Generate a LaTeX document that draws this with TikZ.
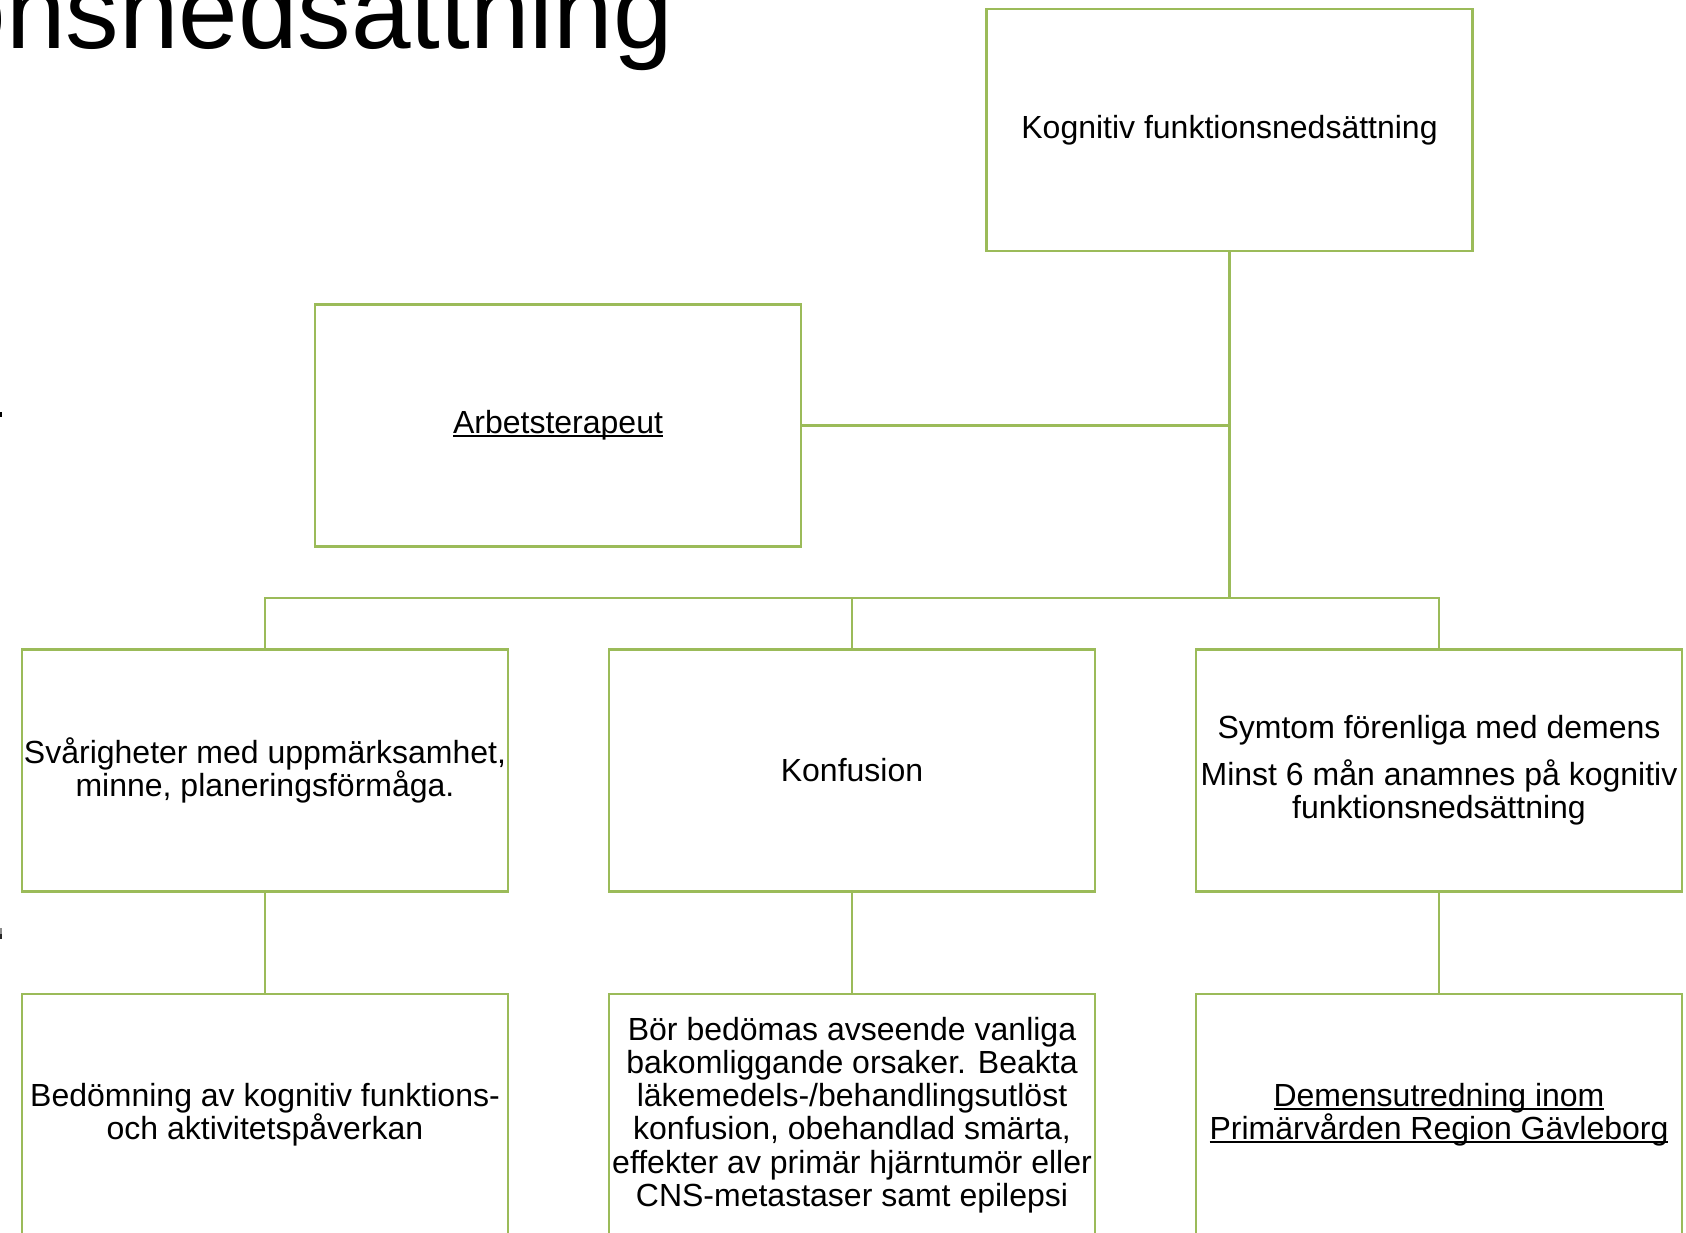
\documentclass[tikz,border=0pt]{standalone}
\usepackage{fontspec}
\setmainfont{Liberation Sans}
\definecolor{boxgreen}{HTML}{9BBB59}
\newsavebox\ulinebox
% underline at a fixed depth, crossing the descenders
\newcommand\ulink[1]{\sbox\ulinebox{#1}\rlap{\rule[-0.11em]{\wd\ulinebox}{0.065em}}\usebox\ulinebox}
\tikzset{
  card/.style={draw=boxgreen, line width=1.45pt, rectangle, minimum width=243pt,
    minimum height=121pt, inner sep=0pt, align=center, text=black,
    font=\fontsize{16}{16.65}\selectfont},
  link/.style={draw=boxgreen, line width=1.45pt}
}
\begin{document}
\begin{tikzpicture}[x=0.5pt,y=-0.5pt]
\useasboundingbox (0,0) rectangle (1686,1232);
\clip (0,0) rectangle (1686,1232);
\fill[white] (0,0) rectangle (1686,1232);

% heading running in from the left edge
\node[anchor=base west, inner sep=0pt, font=\fontsize{53.5}{60}\selectfont] (title) at (6,48) {\llap{o}nsnedsättning};
% fragments of text at the left edge
\fill[black] (0,412) rectangle (2,417);
\fill[black!45] (0,928) rectangle (2,934);
\fill[black!85] (0,934) rectangle (2,939);

% boxes
\node[card] (top) at (1229.5,130) {Kognitiv funktionsnedsättning};
\node[card] (arb) at (558,425.5) {\ulink{Arbetsterapeut}};

\node[card] (c1) at (265,770.5) {Svårigheter med uppmärksamhet,\\minne, planeringsförmåga.};
\node[card] (c2) at (852,770.5) {Konfusion};
\node[card] (c3) at (1439,770.5) {Symtom förenliga med demens\\[6.5pt]Minst 6 mån anamnes på kognitiv\\funktionsnedsättning};

\node[card] (d1) at (265,1115) {Bedömning av kognitiv funktions-\\och aktivitetspåverkan};
\node[card] (d2) at (852,1115) {Bör bedömas avseende vanliga\\bakomliggande orsaker. Beakta\\läkemedels-/behandlingsutlöst\\konfusion, obehandlad smärta,\\effekter av primär hjärntumör eller\\CNS-metastaser samt epilepsi};
\node[card] (d3) at (1439,1115) {\ulink{Demensutredning inom}\\\ulink{Primärvården Region Gävleborg}};

% connectors
\coordinate (bus) at (1229.5,598);
\draw[link] (top.south) -- (bus);
\draw[link] (arb.east) -- (arb.east -| top.south);
\draw[link] (c1.north) |- (bus) -| (c3.north);
\draw[link] (c2.north) -- (c2.north |- bus);
\draw[link] (c1.south) -- (d1.north);
\draw[link] (c2.south) -- (d2.north);
\draw[link] (c3.south) -- (d3.north);
\end{tikzpicture}
\end{document}
